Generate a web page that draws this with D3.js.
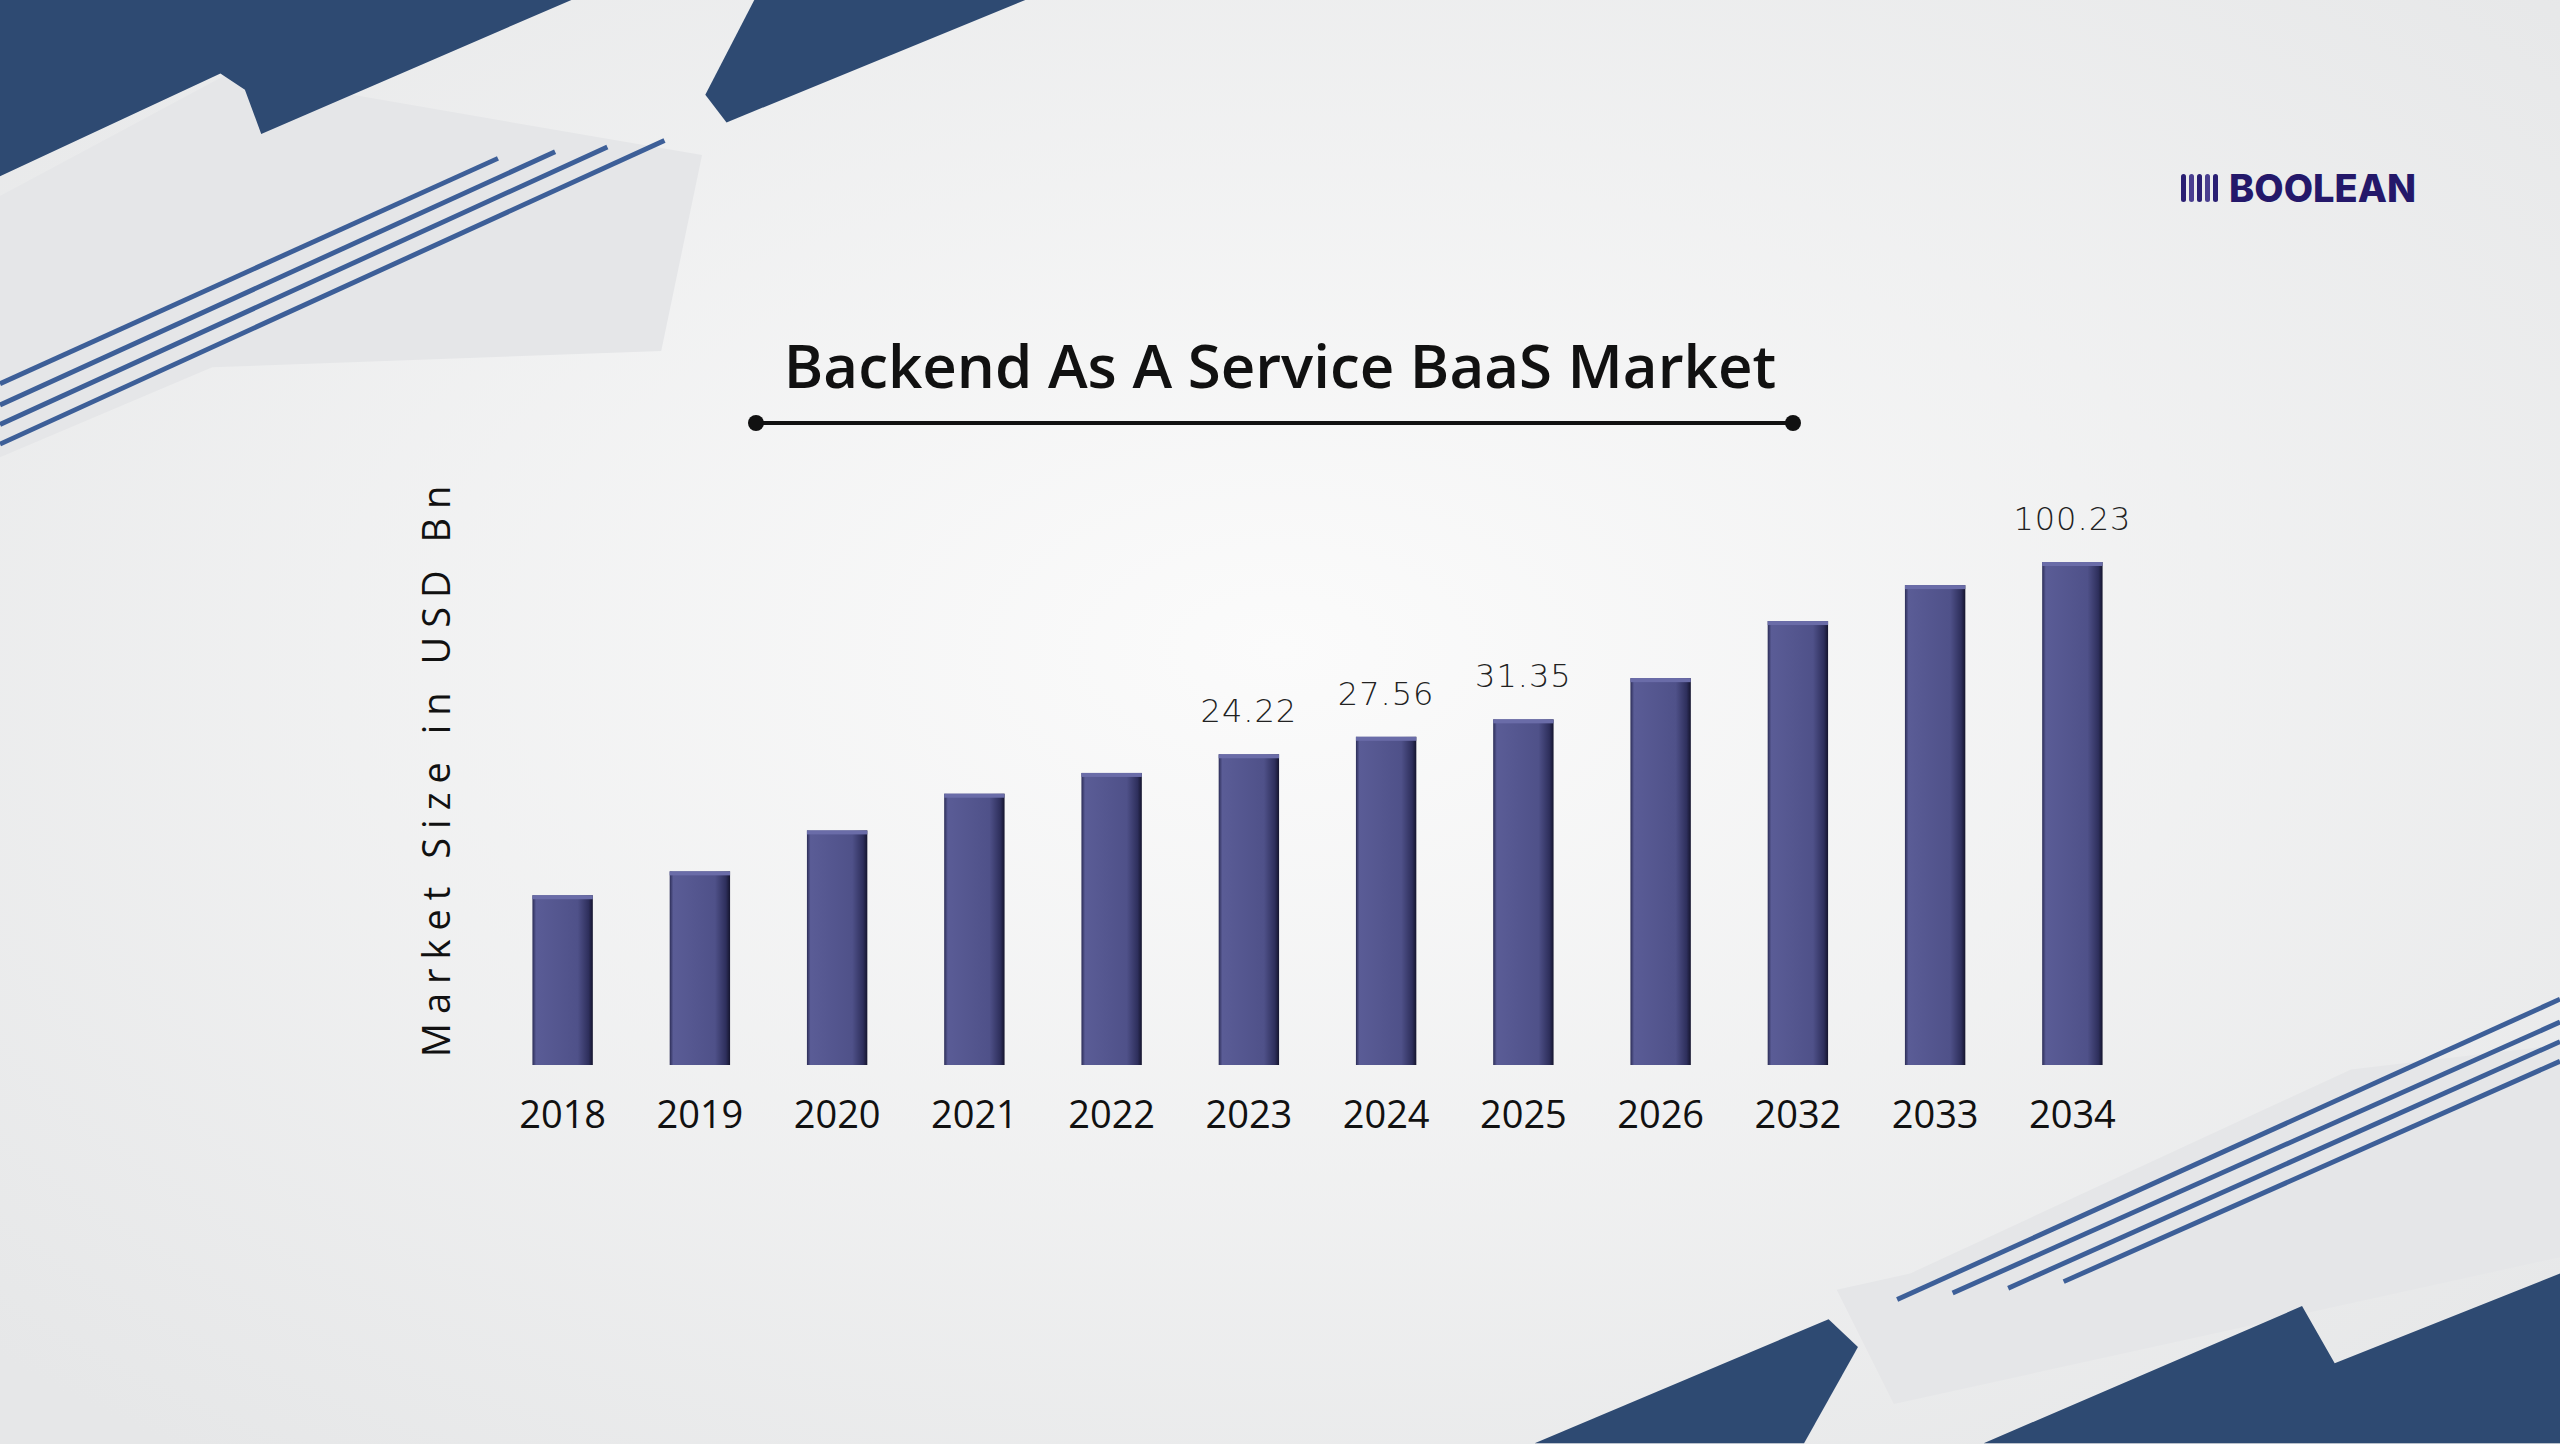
<!DOCTYPE html>
<html>
<head>
<meta charset="utf-8">
<script src="https://cdn.jsdelivr.net/npm/d3@7"></script>
<style>
  html, body { margin: 0; padding: 0; background: #f1f2f3; }
  svg { display: block; }
</style>
</head>
<body>
<svg id="chart"></svg>
<script>
const years = ['2018', '2019', '2020', '2021', '2022', '2023', '2024', '2025', '2026', '2032', '2033', '2034']
const values = [8.55, 10.2, 13.8, 18.1, 21.1, 24.22, 27.56, 31.35, 42.5, 64.8, 84.5, 100.23]
const shownLabels = ['2023', '2024', '2025', '2034']

const W = 2560
const H = 1444
const svg = d3.select('#chart').attr('width', W).attr('height', H)
const defs = svg.append('defs')

const bg = defs.append('radialGradient').attr('id', 'bg').attr('cx', '0.5').attr('cy', '0.45').attr('r', '0.7')
bg.append('stop').attr('offset', '0').attr('stop-color', '#fbfbfb')
bg.append('stop').attr('offset', '1').attr('stop-color', '#e6e7e8')
svg.append('rect').attr('width', W).attr('height', H).attr('fill', 'url(#bg)')

// decorative shapes drawn in the 1568-wide reference space
const deco = svg.append('g').attr('transform', `scale(${W / 1568})`)
const light = '#e5e6e8'
const dark = '#2e4a72'
const lineBlue = '#3d5f98'
const poly = (pts, fill) => deco.append('path').attr('d', d3.line()(pts) + 'Z').attr('fill', fill)

poly([[0, 120], [140, 45], [430, 95], [405, 215], [130, 225], [0, 280]], light)
poly([[0, 0], [350, 0], [160, 82], [150, 55], [135, 45], [0, 108]], dark)
poly([[462, 0], [628, 0], [445, 75], [432, 58]], dark)
poly([[1568, 770], [1568, 640], [1440, 655], [1170, 780], [1125, 790], [1160, 860]], light)
poly([[1568, 884], [1568, 780], [1430, 835], [1410, 800], [1215, 884]], dark)
poly([[940, 884], [1120, 808], [1138, 825], [1105, 884]], dark)

const lines = [[[0, 235], [305, 97]], [[0, 248], [340, 93]], [[0, 260], [372, 90]], [[0, 272], [407, 86]],
  [[1162, 796], [1568, 612]], [[1196, 792], [1568, 626]], [[1230, 789], [1568, 638]], [[1264, 785], [1568, 650]]]
lines.forEach(l => deco.append('line')
  .attr('x1', l[0][0]).attr('y1', l[0][1]).attr('x2', l[1][0]).attr('y2', l[1][1])
  .attr('stroke', lineBlue).attr('stroke-width', 3))

// logo
const logo = svg.append('g').attr('transform', 'translate(2181,196)')
d3.range(5).forEach(i => logo.append('rect')
  .attr('x', i * 8).attr('y', -22).attr('width', 5).attr('height', 28).attr('rx', 2.5)
  .attr('fill', i % 2 ? '#4a3f90' : '#2a1f73'))
logo.append('text').attr('x', 48).attr('y', 6)
  .attr('font-family', 'Inter, "Open Sans", sans-serif').attr('font-weight', 800)
  .attr('font-size', 38).attr('fill', '#24186a').text('BOOLEAN')

// title
svg.append('text').attr('x', 1280).attr('y', 388).attr('text-anchor', 'middle')
  .attr('font-family', '"Open Sans", "Noto Sans", sans-serif').attr('font-weight', 600)
  .attr('font-size', 60).attr('fill', '#111').text('Backend As A Service BaaS Market')
svg.append('line').attr('x1', 756).attr('x2', 1793).attr('y1', 423).attr('y2', 423)
  .attr('stroke', '#111').attr('stroke-width', 4)
;[756, 1793].forEach(x => svg.append('circle').attr('cx', x).attr('cy', 423).attr('r', 8).attr('fill', '#111'))

// bars
const x = d3.scaleBand().domain(years).range([494, 2141]).paddingInner(0.56).paddingOuter(0.28)
const base = 1065
const y = d3.scaleLog().domain([2.44, 100.23]).range([base, 562])

const grad = defs.append('linearGradient').attr('id', 'bar').attr('x1', 0).attr('x2', 1)
grad.append('stop').attr('offset', '0').attr('stop-color', '#2c2d57')
grad.append('stop').attr('offset', '0.06').attr('stop-color', '#5a5c96')
grad.append('stop').attr('offset', '0.75').attr('stop-color', '#4f5189')
grad.append('stop').attr('offset', '0.93').attr('stop-color', '#2e2f5c')
grad.append('stop').attr('offset', '1').attr('stop-color', '#15152e')

const data = years.map((year, i) => ({ year, value: values[i] }))
svg.selectAll('rect.bar').data(data).enter().append('rect')
  .attr('class', 'bar')
  .attr('x', d => x(d.year)).attr('width', x.bandwidth())
  .attr('y', d => y(d.value)).attr('height', d => base - y(d.value))
  .attr('fill', 'url(#bar)')
svg.selectAll('rect.cap').data(data).enter().append('rect')
  .attr('class', 'cap')
  .attr('x', d => x(d.year)).attr('width', x.bandwidth())
  .attr('y', d => y(d.value)).attr('height', 4)
  .attr('fill', '#6a6ca8')

svg.selectAll('text.val').data(data.filter(d => shownLabels.includes(d.year))).enter().append('text')
  .attr('class', 'val')
  .attr('x', d => x(d.year) + x.bandwidth() / 2).attr('y', d => y(d.value) - 32)
  .attr('text-anchor', 'middle').attr('font-family', '"DejaVu Sans", sans-serif')
  .attr('font-weight', 300).attr('letter-spacing', 1)
  .attr('font-size', 32).attr('fill', '#222').text(d => d.value.toFixed(2))

// x axis
const xAxis = svg.append('g').attr('transform', `translate(0,${base + 8})`)
  .call(d3.axisBottom(x).tickSize(0).tickPadding(28))
xAxis.select('.domain').remove()
xAxis.selectAll('text').attr('font-family', '"Open Sans", "Noto Sans", sans-serif')
  .attr('font-size', 38).attr('fill', '#111')

// y label
svg.append('text').attr('transform', 'translate(450,767) rotate(-90)')
  .attr('text-anchor', 'middle').attr('font-family', '"Open Sans", "Noto Sans", sans-serif')
  .attr('font-size', 38).attr('letter-spacing', 9).attr('fill', '#111')
  .text('Market Size in USD Bn')
</script>
</body>
</html>
